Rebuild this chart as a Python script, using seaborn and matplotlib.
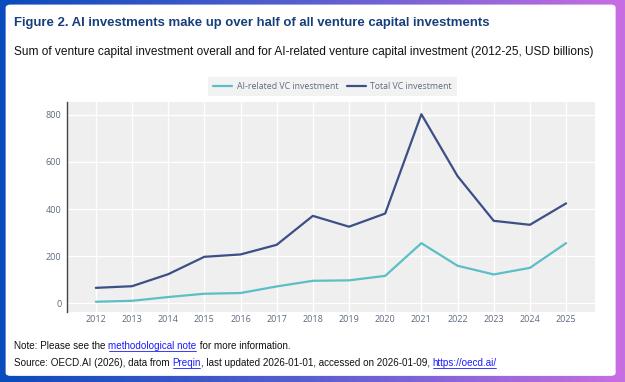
import numpy as np
import pandas as pd
import matplotlib.pyplot as plt
import seaborn as sns
from matplotlib.patches import FancyBboxPatch
from matplotlib.lines import Line2D
from matplotlib.colors import LinearSegmentedColormap

# data (USD billions)
years = list(range(2012, 2026))
ai_vc = [6, 10, 26, 40, 43, 71, 95, 97, 116, 255, 159, 122, 150, 255]
total_vc = [65, 72, 123, 197, 207, 248, 371, 325, 381, 803, 540, 350, 333, 424]
series_names = ["AI-related VC investment", "Total VC investment"]
series_colors = ["#5bbfc5", "#3c4f86"]
y_ticks = [0, 200, 400, 600, 800]

df = pd.DataFrame({
    "Year": years * 2,
    "Value": ai_vc + total_vc,
    "Series": [series_names[0]] * len(years) + [series_names[1]] * len(years),
})

sns.set_theme(style="darkgrid")
plt.rcParams['font.family'] = ['Liberation Sans', 'DejaVu Sans']
plot_font = ['Open Sans', 'DejaVu Sans']
tick_color = "#5d6b80"

fig = plt.figure(figsize=(6.25, 3.82), dpi=100)

# gradient frame with white card
bg = fig.add_axes([0, 0, 1, 1])
grad = np.linspace(0, 1, 256).reshape(1, -1)
cmap = LinearSegmentedColormap.from_list("frame", ["#0a4bbd", "#5a5fd0", "#c86ee2"])
bg.imshow(grad, aspect="auto", cmap=cmap, extent=[0, 1, 0, 1])
bg.add_patch(FancyBboxPatch((0.009, 0.016), 0.976, 0.972,
                            boxstyle="round,pad=0,rounding_size=0.008",
                            transform=bg.transAxes, facecolor="white", edgecolor="none"))
bg.set_xlim(0, 1)
bg.set_ylim(0, 1)
bg.axis("off")

ax = fig.add_axes([0.107, 0.183, 0.845, 0.55])
ax.set_facecolor("#efefef")
sns.lineplot(data=df, x="Year", y="Value", hue="Series", palette=series_colors,
             linewidth=1.6, ax=ax, legend=False)
ax.grid(True, color="white", linewidth=0.9)
ax.set_xticks(years)
ax.set_yticks(y_ticks)
ax.set_xlim(2011.2, 2025.8)
ax.set_ylim(-38, 855)
ax.set_xlabel("")
ax.set_ylabel("")
ax.tick_params(axis="x", colors=tick_color, length=0, pad=2)
ax.tick_params(axis="y", colors=tick_color, length=0, pad=4)
for tl in ax.get_xticklabels() + ax.get_yticklabels():
    tl.set_family(plot_font)
    tl.set_fontsize(6.5)
for s in ["top", "right", "bottom"]:
    ax.spines[s].set_visible(False)
ax.spines["left"].set_visible(True)
ax.spines["left"].set_color("#444444")
ax.spines["left"].set_linewidth(1.0)

# legend
handles = [Line2D([0], [0], color=c, lw=1.6) for c in series_colors]
leg = fig.legend(handles, series_names, loc="center", bbox_to_anchor=(0.532, 0.773),
                 ncol=2, frameon=True, handlelength=2.2, columnspacing=1.0,
                 handletextpad=0.5, borderpad=0.6, fancybox=False,
                 prop={'family': plot_font, 'size': 6.3})
leg.get_frame().set_facecolor("#efefef")
leg.get_frame().set_edgecolor("none")
for t in leg.get_texts():
    t.set_color(tick_color)

fig.text(0.023, 0.94, "Figure 2. AI investments make up over half of all venture capital investments",
         fontsize=9.45, fontweight="bold", color="#173f7a", va="center")
fig.text(0.023, 0.864, "Sum of venture capital investment overall and for AI-related venture capital investment (2012-25, USD billions)",
         fontsize=8.6, color="#111111", va="center")


# text runs with underlined links; offsets measured from the full prefix
def run(x, y, parts, size=7.1):
    r = fig.canvas.get_renderer()
    W = fig.bbox.width

    def width(s):
        t = fig.text(0, 0, s, fontsize=size)
        w = t.get_window_extent(renderer=r).width
        t.remove()
        return w

    bar = width("|")
    prefix = ""
    for txt, link in parts:
        off = 0
        if prefix:
            off = width(prefix + "|") - bar
            if prefix.endswith(" "):
                off -= 0.7
        t = fig.text(x + off / W, y, txt, fontsize=size, va="center",
                     color="#1a1aff" if link else "#111111")
        if link:
            bb = t.get_window_extent(renderer=r)
            yl = (bb.y0 + 0.3) / fig.bbox.height
            fig.add_artist(Line2D([(bb.x0 + 1.0) / W, (bb.x1 - 0.5) / W], [yl, yl],
                                  color="#1a1aff", lw=0.6, transform=fig.transFigure))
        prefix += txt


run(0.023, 0.094, [("Note: Please see the ", False), ("methodological note", True),
                   (" for more information.", False)])
run(0.023, 0.05, [("Source: OECD.AI (2026), data from ", False), ("Preqin", True),
                  (", last updated 2026-01-01, accessed on 2026-01-09, ", False),
                  ("https://oecd.ai/", True)])

fig.savefig("out.png", dpi=100)
